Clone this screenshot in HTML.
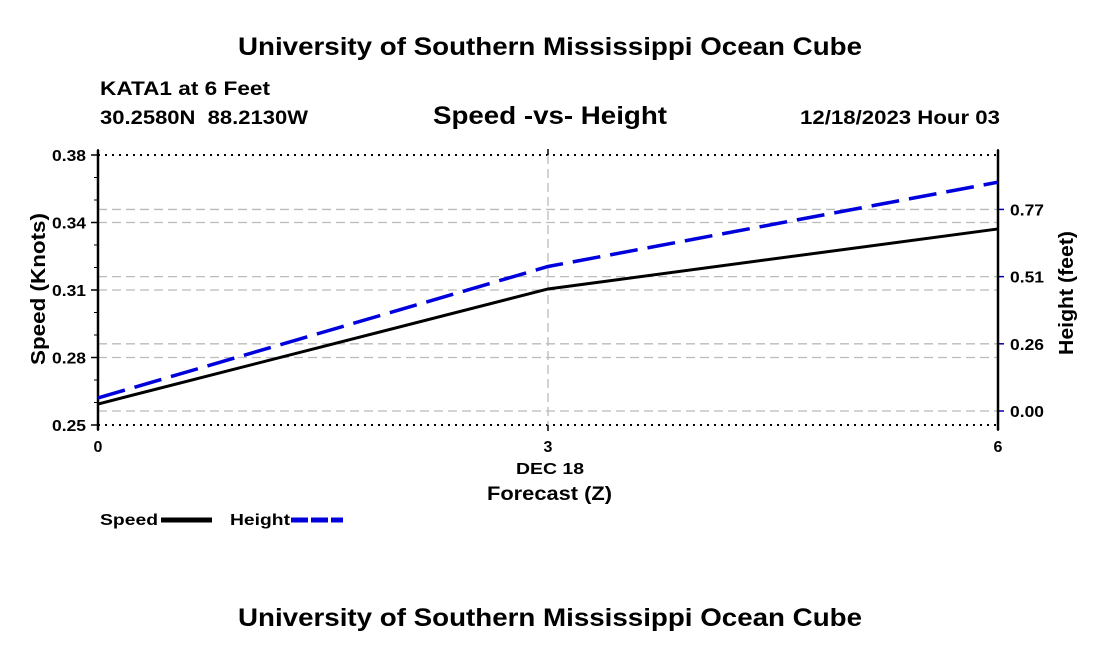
<!DOCTYPE html>
<html><head><meta charset="utf-8"><style>
body{margin:0;background:#fff;width:1100px;height:650px;overflow:hidden;font-family:"Liberation Sans",sans-serif}
svg text{font-family:"Liberation Sans",sans-serif;font-weight:bold;fill:#000}
</style></head><body>
<svg width="1100" height="650">
<text x="238" y="55" font-size="25" textLength="624" lengthAdjust="spacingAndGlyphs">University of Southern Mississippi Ocean Cube</text>
<text x="100" y="95" font-size="19" textLength="170" lengthAdjust="spacingAndGlyphs">KATA1 at 6 Feet</text>
<text x="100" y="124" font-size="19" textLength="208" lengthAdjust="spacingAndGlyphs" xml:space="preserve">30.2580N  88.2130W</text>
<text x="433" y="124" font-size="25" textLength="234" lengthAdjust="spacingAndGlyphs">Speed -vs- Height</text>
<text x="800" y="124" font-size="19" textLength="200" lengthAdjust="spacingAndGlyphs">12/18/2023 Hour 03</text>
<g id="grid"></g>
<g id="axes"></g>
<g id="series"></g>
<text x="516" y="474" font-size="16" textLength="68" lengthAdjust="spacingAndGlyphs">DEC 18</text>
<text x="487" y="500" font-size="19" textLength="125" lengthAdjust="spacingAndGlyphs">Forecast (Z)</text>
<text transform="translate(45,289) rotate(-90)" x="-76" font-size="20" textLength="152" lengthAdjust="spacingAndGlyphs">Speed (Knots)</text>
<text transform="translate(1073,293) rotate(-90)" x="-62" font-size="20" textLength="124" lengthAdjust="spacingAndGlyphs">Height (feet)</text>
<g><text x="100" y="525" font-size="16" textLength="58" lengthAdjust="spacingAndGlyphs">Speed</text><line x1="161" y1="520" x2="212" y2="520" stroke="#000" stroke-width="5"/></g>
<g><text x="230" y="525" font-size="16" textLength="60" lengthAdjust="spacingAndGlyphs">Height</text><line x1="291" y1="520" x2="343" y2="520" stroke="#0000dd" stroke-width="5" stroke-dasharray="17,3"/></g>
<text x="238" y="626" font-size="25" textLength="624" lengthAdjust="spacingAndGlyphs">University of Southern Mississippi Ocean Cube</text>
</svg>
<script>
const hours=[0,3,6];
const speedValues=[0.2601,0.3155,0.3444];
const heightValues=[0.05,0.552,0.874];
const speedTicks=[0.25,0.28,0.31,0.34,0.38];
const heightTicks=["0.00","0.26","0.51","0.77"];
const heightTickValues=[0,0.2567,0.5133,0.77];
const xTicks=[0,3,6];
const NS="http://www.w3.org/2000/svg";
const L=98,R=998,T=155,B=425;
const X=h=>L+(h-0)/6*(R-L);
const Ys=v=>B-(v-0.25)/0.13*(B-T);
const Yh=v=>411-v/0.2567*67.2;
function mk(p,tag,at){const e=document.createElementNS(NS,tag);for(const k in at)e.setAttribute(k,at[k]);p.appendChild(e);return e;}
const grid=document.getElementById('grid'),axes=document.getElementById('axes'),ser=document.getElementById('series');
speedTicks.forEach((v,i)=>{
 const y=B-i*(B-T)/(speedTicks.length-1);
 const edge=(i==0||i==speedTicks.length-1);
 const ln=mk(grid,'line',{x1:L,x2:R,y1:y,y2:y,stroke:edge?'#000':'#bbb','stroke-width':edge?2:1.3,'stroke-dasharray':edge?'2,5':'9,5'});
 
 
 mk(axes,'line',{x1:L-7,x2:L,y1:y,y2:y,stroke:'#000','stroke-width':1.5});
 const t=mk(axes,'text',{x:L-12,y:y+6,'text-anchor':'end','font-size':16,textLength:34,lengthAdjust:'spacingAndGlyphs'});t.textContent=v.toFixed(2);
 
 
 if(i<speedTicks.length-1){for(let j=1;j<3;j++){const yy=y-j*(B-T)/(speedTicks.length-1)/3;mk(axes,'line',{x1:L-4,x2:L,y1:yy,y2:yy,stroke:'#000','stroke-width':1});}}
});
heightTickValues.forEach((v,i)=>{
 const y=Yh(v);
 const ln=mk(grid,'line',{x1:L,x2:R,y1:y,y2:y,stroke:'#bbb','stroke-width':1.3,'stroke-dasharray':'9,5'});
 
 
 mk(axes,'line',{x1:R,x2:R+6,y1:y,y2:y,stroke:'#0000aa','stroke-width':1.5});
 const t=mk(axes,'text',{x:R+12,y:y+6,'font-size':16,textLength:34,lengthAdjust:'spacingAndGlyphs'});t.textContent=heightTicks[i];
 
 
});
xTicks.forEach(h=>{
 const x=X(h);
 if(h>0&&h<6){const g=mk(grid,'line',{x1:x,x2:x,y1:T,y2:B,stroke:'#bbb','stroke-width':1.3,'stroke-dasharray':'9,5'});
 
 }
 mk(axes,'line',{x1:x,x2:x,y1:B,y2:B+6,stroke:'#000','stroke-width':1.5});
 mk(axes,'line',{x1:x,x2:x,y1:T-6,y2:T,stroke:'#000','stroke-width':1.5});
 const t=mk(axes,'text',{x:x,y:B+27,'text-anchor':'middle','font-size':16});t.textContent=h;
 
 
});
mk(axes,'line',{x1:L,x2:L,y1:T-5,y2:B+5,stroke:'#000','stroke-width':2.5});
mk(axes,'line',{x1:R,x2:R,y1:T-5,y2:B+5,stroke:'#000','stroke-width':2.5});
const sp=mk(ser,'polyline',{points:hours.map((h,i)=>X(h)+','+Ys(speedValues[i])).join(' '),fill:'none',stroke:'#000','stroke-width':3});


const hp=mk(ser,'polyline',{points:hours.map((h,i)=>X(h)+','+Yh(heightValues[i])).join(' '),fill:'none',stroke:'#0000dd','stroke-width':3.5,'stroke-dasharray':'28,10'});


</script>
</body></html>
